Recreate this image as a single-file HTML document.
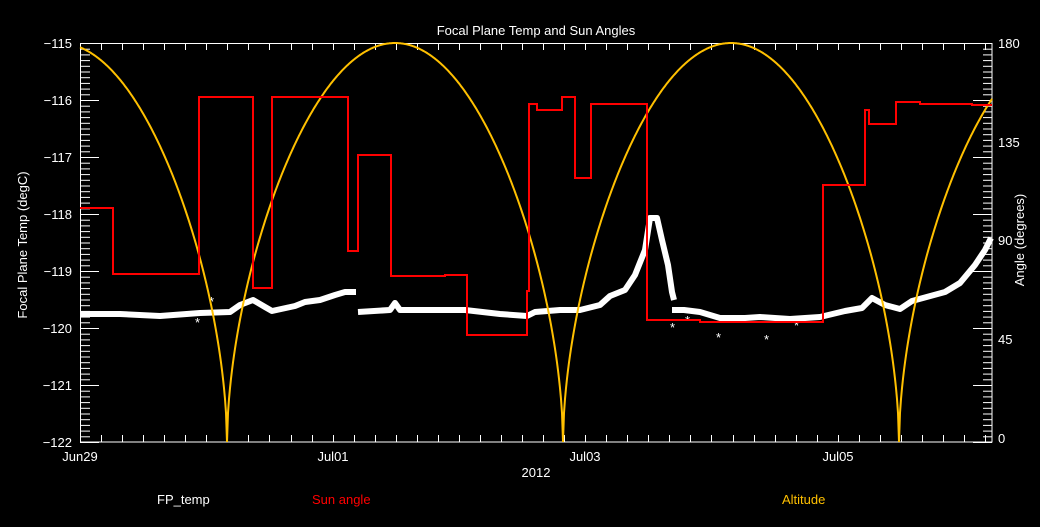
<!DOCTYPE html>
<html><head><meta charset="utf-8"><style>
html,body{margin:0;padding:0;background:#000;}
svg{display:block;}
text{font-family:"Liberation Sans",sans-serif;font-size:13px;fill:#fff;}
</style></head><body>
<svg id="s" width="1040" height="527" xmlns="http://www.w3.org/2000/svg">
<rect width="1040" height="527" fill="#000"/>
<text x="536" y="35" text-anchor="middle" font-size="14">Focal Plane Temp and Sun Angles</text>
<g id="ticks" stroke="#fff" stroke-width="1"></g>
<rect x="80.5" y="43.5" width="911.5" height="398.5" fill="none" stroke="#fff" stroke-width="1"/>
<g text-anchor="end">
<text x="72" y="48">−115</text><text x="72" y="105">−116</text><text x="72" y="162">−117</text>
<text x="72" y="219">−118</text><text x="72" y="276">−119</text><text x="72" y="333">−120</text>
<text x="72" y="390">−121</text><text x="72" y="447">−122</text>
</g>
<g text-anchor="start">
<text x="998" y="48">180</text><text x="998" y="147">135</text><text x="998" y="245">90</text>
<text x="998" y="344">45</text><text x="998" y="443">0</text>
</g>
<g text-anchor="middle">
<text x="80" y="461">Jun29</text><text x="333" y="461">Jul01</text>
<text x="585" y="461">Jul03</text><text x="838" y="461">Jul05</text>
<text x="536" y="477">2012</text>
</g>
<text transform="translate(27,245) rotate(-90)" text-anchor="middle">Focal Plane Temp (degC)</text>
<text transform="translate(1024,240) rotate(-90)" text-anchor="middle">Angle (degrees)</text>
<text x="157" y="504">FP_temp</text>
<text x="312" y="504" style="fill:#ff0000">Sun angle</text>
<text x="782" y="504" style="fill:#ffc000">Altitude</text>
<polyline fill="none" stroke="#fff" stroke-width="6" stroke-linejoin="round" points="80,314 120,314 160,316 200,313 230,312 240,305 253,300 265,307 272,311 295,306 305,302 320,300 335,295 345,292 356,292"/>
<polyline fill="none" stroke="#fff" stroke-width="6" stroke-linejoin="round" points="358,312 390,310 395,303 400,310 465,310 500,314 527,316 535,312 560,310 580,310 600,305 610,296 625,290 635,275 645,250 650,218 657,218 662,240 668,265 672,292 674,300"/>
<polyline fill="none" stroke="#fff" stroke-width="6" stroke-linejoin="round" points="672,310 684,310 700,312 720,318 745,318 760,317 790,319 820,317 845,311 862,308 872,298 885,305 900,309 912,301 945,292 960,283 975,265 985,250 991,238"/>
<g fill="#fff" font-size="12"><text x="195" y="327">*</text><text x="209" y="306">*</text><text x="670" y="332">*</text><text x="716" y="342">*</text><text x="764" y="344">*</text><text x="794" y="330">*</text><text x="685" y="325">*</text></g>
<path id="alt" fill="none" stroke="#ffc000" stroke-width="2"/>
<path fill="none" stroke="#ff0000" stroke-width="2" d="M80,208 H113 V274 H199 V97 H253 V288 H272 V97 H348 V251 H358 V155 H391 V276 H445 V275 H467 V335 H527 V291 H529 V104 H537 V110 H562 V97 H575 V178 H591 V104 H647 V320 H700 V322 H823 V185 H865 V110 H869 V124 H896 V102 H920 V104 H972 V105 H992"/>
</svg>
<script>
var g=document.getElementById('ticks'),h='';
function L(x1,y1,x2,y2){h+='<line x1="'+x1+'" y1="'+y1+'" x2="'+x2+'" y2="'+y2+'"/>';}
for(var i=0;i<=70;i++){var y=43.5+i*5.7;var big=i%10==0;L(80,y,big?99:90,y);L(992,y,big?973:983,y);}
for(var x=80;x<=992;x+=126.3/6){var xx=Math.round(x)+0.5;L(xx,442,xx,435);L(xx,43,xx,50);}
var d='';
for(var x=80;x<=992;x+=1){var s=Math.abs(Math.sin(Math.PI*(x-227)/336));var a=180*Math.pow(s,0.56);var y=442-a/180*399;d+=(x==80?'M':'L')+x+','+y.toFixed(1);}
document.getElementById('alt').setAttribute('d',d);
g.innerHTML=h;
</script>
</body></html>
